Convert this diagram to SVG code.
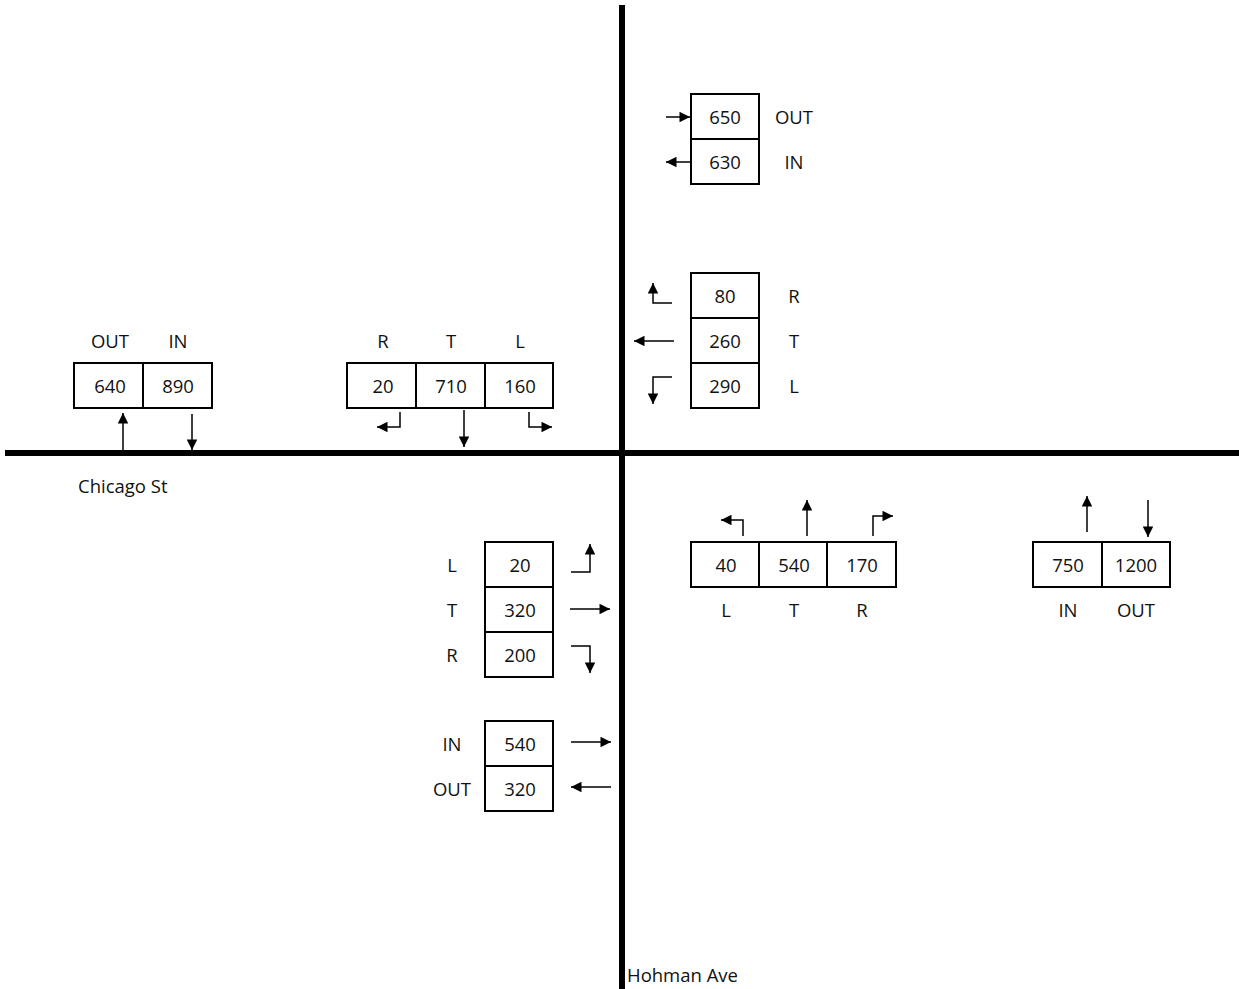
<svg xmlns="http://www.w3.org/2000/svg" width="1239" height="989" viewBox="0 0 1239 989">
<style>
.road{stroke:#000;stroke-width:6;fill:none}
.box{fill:#fff;stroke:#000;stroke-width:2}
.arr{stroke:#000;stroke-width:1.5;fill:none;marker-end:url(#ah)}
text{font-family:"Open Sans","Liberation Sans",sans-serif;font-size:18.5px;fill:#111;text-anchor:middle;dominant-baseline:central}
.lbl{text-anchor:start}
</style>
<defs>
<marker id="ah" viewBox="0 0 10 10" refX="10" refY="5" markerWidth="7.5" markerHeight="7" markerUnits="strokeWidth" orient="auto">
<path d="M0,0 L10,5 L0,10 z" fill="#000"/>
</marker>
</defs>
<rect width="1239" height="989" fill="#fff"/>
<g id="roads">
<line class="road" x1="5" y1="453" x2="1239" y2="453"/>
<line class="road" x1="622" y1="5" x2="622" y2="989"/>
<text class="lbl" x="78" y="485">Chicago St</text>
<text class="lbl" x="627" y="974">Hohman Ave</text>
</g>
<g id="connectors">
<line class="arr" x1="666" y1="117" x2="690" y2="117"/>
<line class="arr" x1="690" y1="162" x2="666" y2="162"/>
<polyline class="arr" points="672,303 653,303 653,283"/>
<line class="arr" x1="674" y1="341" x2="634" y2="341"/>
<polyline class="arr" points="672,377 653,377 653,404"/>
<polyline class="arr" points="400,412 400,427 377,427"/>
<line class="arr" x1="464" y1="410" x2="464" y2="447"/>
<polyline class="arr" points="529,412 529,427 552,427"/>
<line class="arr" x1="123" y1="450" x2="123" y2="413"/>
<line class="arr" x1="192" y1="414" x2="192" y2="450"/>
<polyline class="arr" points="571,572 590,572 590,544"/>
<line class="arr" x1="570" y1="609" x2="610" y2="609"/>
<polyline class="arr" points="571,646 590,646 590,673"/>
<polyline class="arr" points="743,536 743,520 721,520"/>
<line class="arr" x1="807" y1="536" x2="807" y2="500"/>
<polyline class="arr" points="873,536 873,516 893,516"/>
<line class="arr" x1="1087" y1="532" x2="1087" y2="496"/>
<line class="arr" x1="1148" y1="500" x2="1148" y2="537"/>
<line class="arr" x1="571" y1="742" x2="611" y2="742"/>
<line class="arr" x1="611" y1="787" x2="571" y2="787"/>
</g>
<g id="ne-inout">
<rect class="box" x="691" y="94" width="68" height="45"/>
<rect class="box" x="691" y="139" width="68" height="45"/>
<text x="725" y="116">650</text>
<text x="725" y="161">630</text>
<text x="794" y="116">OUT</text>
<text x="794" y="161">IN</text>
</g>
<g id="east-approach">
<rect class="box" x="691" y="273" width="68" height="45"/>
<rect class="box" x="691" y="318" width="68" height="45"/>
<rect class="box" x="691" y="363" width="68" height="45"/>
<text x="725" y="295">80</text>
<text x="725" y="340">260</text>
<text x="725" y="385">290</text>
<text x="794" y="295">R</text>
<text x="794" y="340">T</text>
<text x="794" y="385">L</text>
</g>
<g id="north-approach">
<rect class="box" x="347" y="363" width="69" height="45"/>
<rect class="box" x="416" y="363" width="69" height="45"/>
<rect class="box" x="485" y="363" width="68" height="45"/>
<text x="383" y="385">20</text>
<text x="451" y="385">710</text>
<text x="520" y="385">160</text>
<text x="383" y="340">R</text>
<text x="451" y="340">T</text>
<text x="520" y="340">L</text>
</g>
<g id="west-inout">
<rect class="box" x="74" y="363" width="69" height="45"/>
<rect class="box" x="143" y="363" width="69" height="45"/>
<text x="110" y="385">640</text>
<text x="178" y="385">890</text>
<text x="110" y="340">OUT</text>
<text x="178" y="340">IN</text>
</g>
<g id="west-approach">
<rect class="box" x="485" y="542" width="68" height="45"/>
<rect class="box" x="485" y="587" width="68" height="45"/>
<rect class="box" x="485" y="632" width="68" height="45"/>
<text x="520" y="564">20</text>
<text x="520" y="609">320</text>
<text x="520" y="654">200</text>
<text x="452" y="564">L</text>
<text x="452" y="609">T</text>
<text x="452" y="654">R</text>
</g>
<g id="south-approach">
<rect class="box" x="691" y="542" width="68" height="45"/>
<rect class="box" x="759" y="542" width="68" height="45"/>
<rect class="box" x="827" y="542" width="69" height="45"/>
<text x="726" y="564">40</text>
<text x="794" y="564">540</text>
<text x="862" y="564">170</text>
<text x="726" y="609">L</text>
<text x="794" y="609">T</text>
<text x="862" y="609">R</text>
</g>
<g id="se-inout">
<rect class="box" x="1033" y="542" width="69" height="45"/>
<rect class="box" x="1102" y="542" width="68" height="45"/>
<text x="1068" y="564">750</text>
<text x="1136" y="564">1200</text>
<text x="1068" y="609">IN</text>
<text x="1136" y="609">OUT</text>
</g>
<g id="sw-inout">
<rect class="box" x="485" y="721" width="68" height="45"/>
<rect class="box" x="485" y="766" width="68" height="45"/>
<text x="520" y="743">540</text>
<text x="520" y="788">320</text>
<text x="452" y="743">IN</text>
<text x="452" y="788">OUT</text>
</g>
</svg>
